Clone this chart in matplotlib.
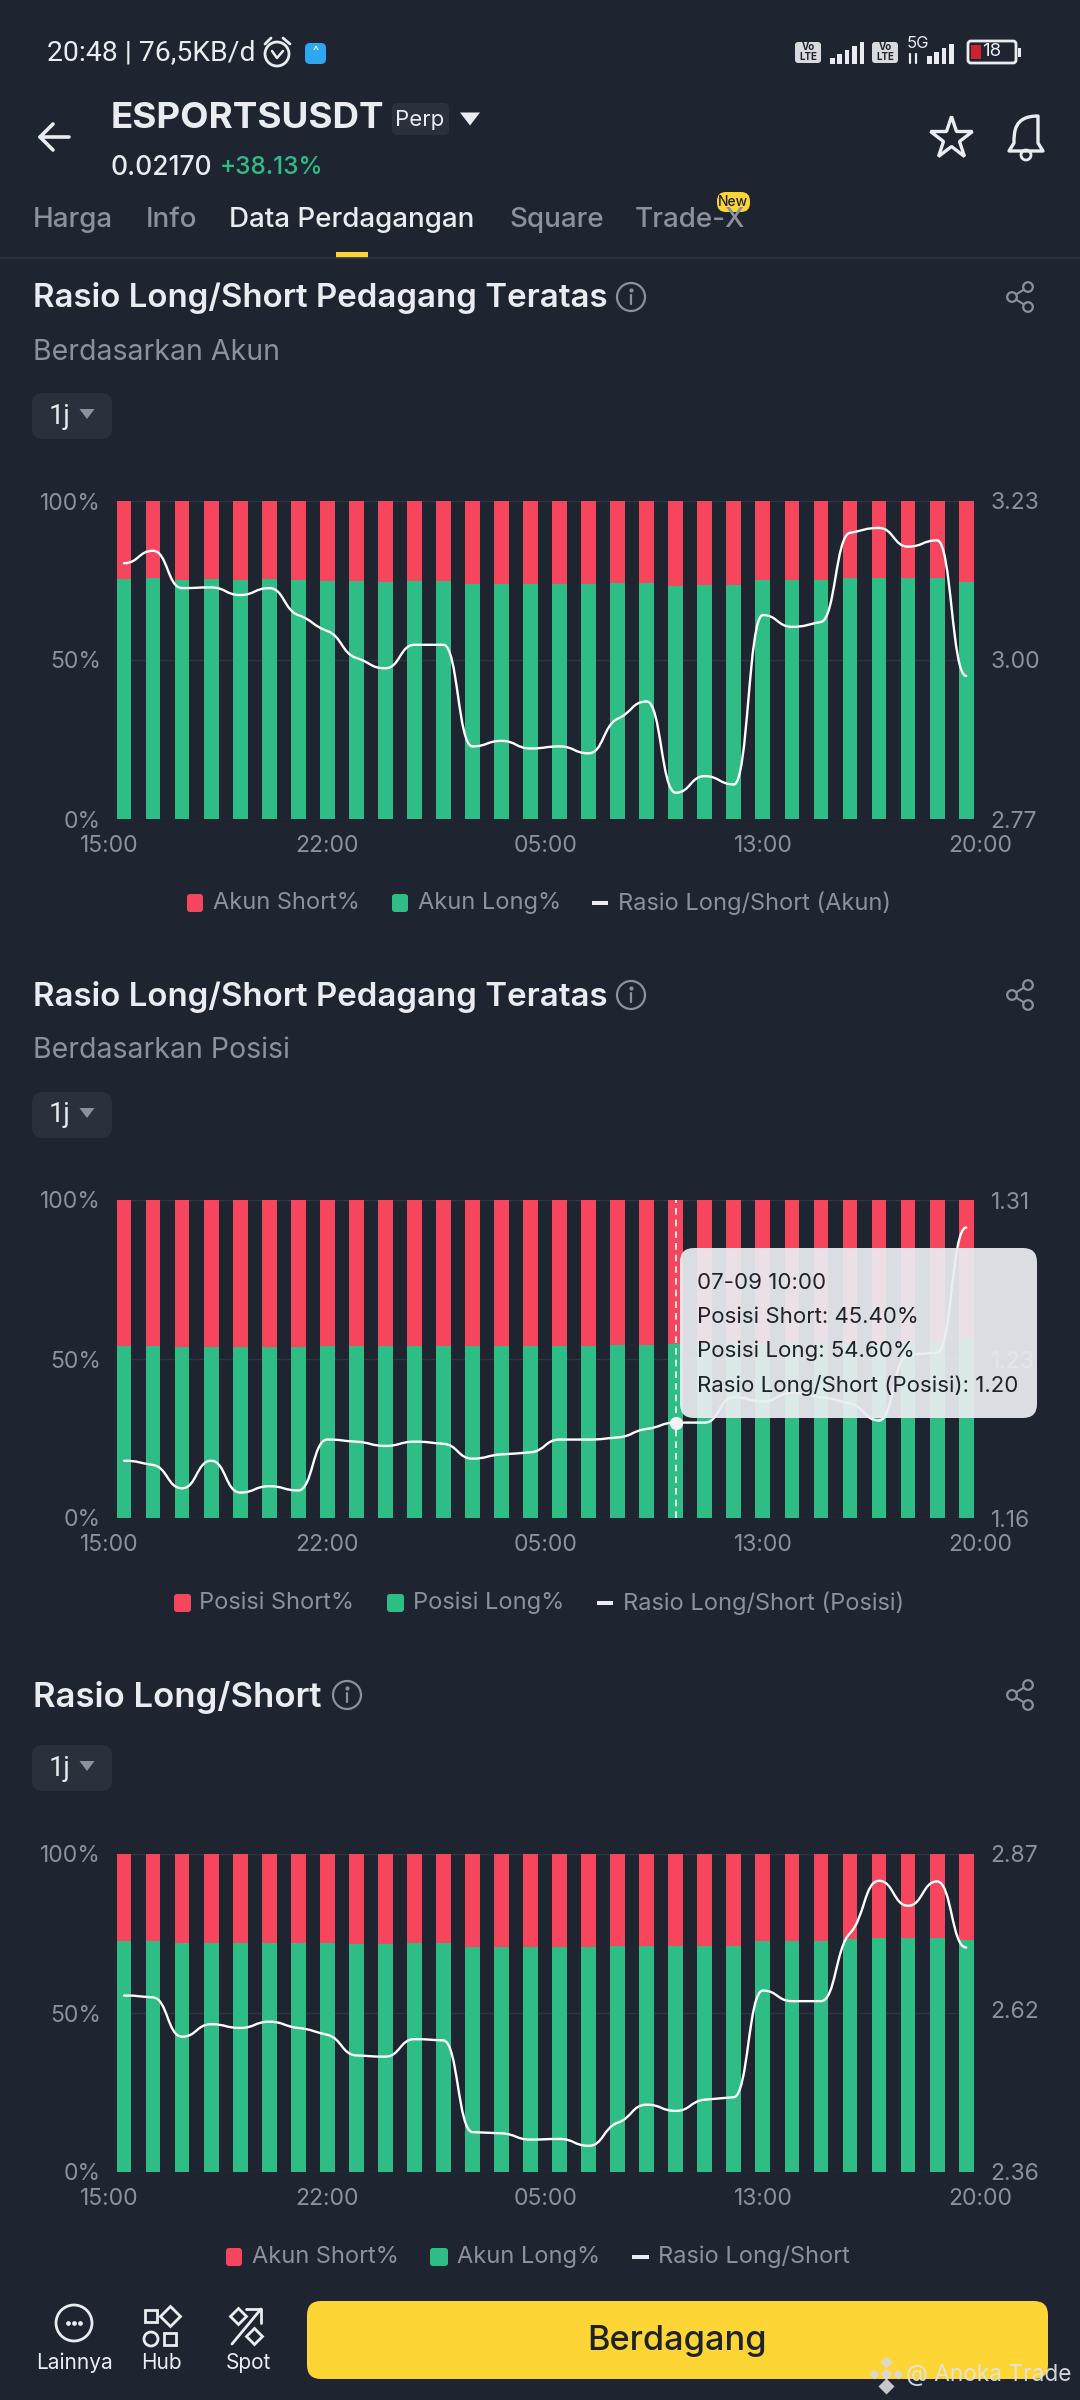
import matplotlib
matplotlib.use('Agg')
import matplotlib.pyplot as plt
from matplotlib.patches import FancyBboxPatch, Circle, PathPatch, Rectangle
from matplotlib.path import Path

plt.rcParams['font.family'] = ['Inter', 'DejaVu Sans']

W, H = 1080, 2400
BG = '#1E2530'
RED = '#F6465D'
GREEN = '#2EBD85'
GRID = '#2E3542'
GREY = '#8B929E'
WHITE = '#EAECEF'
YELLOW = '#FCD535'

jam = ['15:00', '22:00', '05:00', '13:00', '20:00']
jam_pos = [-0.5, 7, 14.5, 22, 29.5]

akun_long = [75.6, 75.8, 75.3, 75.4, 75.3, 75.4, 75.1, 74.9, 74.8, 74.6,
             74.8, 74.8, 74.0, 74.0, 74.0, 74.0, 74.0, 74.3, 74.3, 73.4,
             73.6, 73.6, 75.1, 75.1, 75.2, 75.8, 75.8, 75.8, 75.8, 74.6]
akun_rasio = [3.140, 3.158, 3.104, 3.105, 3.094, 3.104, 3.065, 3.042, 3.003, 2.988,
              3.022, 3.022, 2.875, 2.883, 2.872, 2.875, 2.865, 2.915, 2.940, 2.808,
              2.832, 2.820, 3.065, 3.048, 3.055, 3.184, 3.191, 3.164, 3.173, 2.977]

posisi_long = [54.1, 54.0, 53.8, 53.9, 53.8, 53.8, 53.8, 54.2, 54.2, 54.2,
               54.2, 54.2, 54.2, 54.2, 54.2, 54.2, 54.2, 54.3, 54.4, 54.6,
               54.6, 54.9, 54.8, 54.9, 54.9, 54.8, 54.6, 55.3, 55.3, 56.5]
posisi_rasio = [1.187, 1.185, 1.174, 1.187, 1.172, 1.175, 1.173, 1.197, 1.196, 1.194,
                1.196, 1.195, 1.188, 1.190, 1.191, 1.197, 1.197, 1.198, 1.202, 1.205,
                1.205, 1.217, 1.215, 1.219, 1.217, 1.214, 1.206, 1.237, 1.238, 1.297]

global_long = [72.5, 72.5, 71.9, 72.1, 72.1, 72.1, 72.1, 71.9, 71.8, 71.8,
               71.9, 71.9, 70.7, 70.7, 70.7, 70.7, 70.7, 71.0, 71.1, 71.1,
               71.2, 71.2, 72.5, 72.5, 72.5, 73.2, 73.7, 73.5, 73.7, 73.1]
global_rasio = [2.643, 2.640, 2.577, 2.597, 2.591, 2.601, 2.591, 2.580, 2.547, 2.545,
                2.573, 2.571, 2.424, 2.422, 2.412, 2.413, 2.402, 2.439, 2.468, 2.458,
                2.476, 2.480, 2.651, 2.634, 2.634, 2.743, 2.827, 2.787, 2.826, 2.720]

fig = plt.figure(figsize=(W / 100, H / 100), dpi=100, facecolor=BG)


def kurva(x, y):
    # garis halus seperti di aplikasi
    n = len(x)
    m = [0.0] * n
    for i in range(1, n - 1):
        a, b = y[i] - y[i - 1], y[i + 1] - y[i]
        if a * b > 0:
            batas = 0.5 * min(abs(a), abs(b))
            m[i] = max(-batas, min(batas, 0.12 * (a + b)))
    verts = [(x[0], y[0])]
    codes = [Path.MOVETO]
    for i in range(n - 1):
        verts += [(x[i] + 0.5, y[i] + m[i]), (x[i + 1] - 0.5, y[i + 1] - m[i + 1]), (x[i + 1], y[i + 1])]
        codes += [Path.CURVE4] * 3
    return Path(verts, codes)


def chart(top, bottom, long_pct, rasio, rasio_ticks):
    ax = fig.add_axes([100 / W, 1 - bottom / H, 890 / W, (bottom - top) / H])
    ax.set_facecolor('none')
    idx = list(range(len(long_pct)))
    short_pct = [100 - v for v in long_pct]
    ax.hlines([0, 50, 100], -0.275, 29.235, color=GRID, lw=1, zorder=1)
    ax.bar(idx, long_pct, width=0.51, color=GREEN, zorder=2)
    ax.bar(idx, short_pct, bottom=long_pct, width=0.51, color=RED, zorder=2)
    ax.set_xlim((100 - 124) / 29.04, (990 - 124) / 29.04)
    ax.set_ylim(0, 100)
    ax.set_yticks([0, 50, 100], ['0%', '50%', '100%'])
    ax.set_xticks(jam_pos, jam)
    ax.tick_params(axis='y', length=0, pad=-0.5, labelcolor=GREY, labelsize=16.5)
    ax.tick_params(axis='x', length=0, pad=11.5, labelcolor=GREY, labelsize=16.5)
    for s in ax.spines.values():
        s.set_visible(False)
    ax2 = ax.twinx()
    ax2.set_ylim(rasio_ticks[0], rasio_ticks[-1])
    ax2.set_yticks(rasio_ticks, ['%.2f' % v for v in rasio_ticks])
    ax2.tick_params(axis='y', length=0, pad=0.5, labelcolor=GREY, labelsize=16.5)
    for s in ax2.spines.values():
        s.set_visible(False)
    ax2.add_patch(PathPatch(kurva(idx, rasio), fill=False, ec='white', lw=1.7, zorder=5, capstyle='round'))
    return ax, ax2


ax1, ax1b = chart(501, 819, akun_long, akun_rasio, [2.77, 3.00, 3.23])
ax2, ax2b = chart(1200, 1518, posisi_long, posisi_rasio, [1.16, 1.235, 1.31])
ax3, ax3b = chart(1854, 2172, global_long, global_rasio, [2.36, 2.62, 2.87])
ax2b.set_yticklabels(['1.16', '1.23', '1.31'])

# titik hover di 10:00
ax2b.axvline(19, color='white', lw=1.2, ls=(0, (4, 3)), zorder=6)
ax2b.plot([19], [posisi_rasio[19]], 'o', color='#F2F3F5', ms=8.5, zorder=7)

# layer untuk semua elemen UI, koordinat piksel
ui = fig.add_axes([0, 0, 1, 1])
ui.set_xlim(0, W)
ui.set_ylim(H, 0)
ui.axis('off')
ui.patch.set_alpha(0)


def t(x, y, s, size, color=WHITE, weight='normal', ha='left', **kw):
    return ui.text(x, y, s, fontsize=size, color=color, fontweight=weight, ha=ha, va='center', **kw)


def kotak(x0, y0, x1, y1, r, color, **kw):
    ui.add_patch(FancyBboxPatch((x0 + r, y0 + r), x1 - x0 - 2 * r, y1 - y0 - 2 * r,
                                boxstyle='round,pad=%d' % r, fc=color, ec='none', **kw))


def garis(xs, ys, color=WHITE, lw=2, **kw):
    ui.plot(xs, ys, color=color, lw=lw, solid_capstyle='round', solid_joinstyle='round', **kw)


def segitiga(x, y, w, h, color):
    ui.fill([x - w / 2, x + w / 2, x], [y - h / 2, y - h / 2, y + h / 2], color=color, lw=0)


def info(x, y):
    ui.add_patch(Circle((x, y), 14, fc='none', ec=GREY, lw=1.6))
    garis([x, x], [y - 2, y + 7], GREY, 1.6)
    ui.plot([x], [y - 7], 'o', color=GREY, ms=2)


def share(x, y):
    pts = [(x + 8, y - 10), (x - 8, y), (x + 8, y + 10)]
    garis([pts[0][0], pts[1][0], pts[2][0]], [pts[0][1], pts[1][1], pts[2][1]], GREY, 1.5)
    for p in pts:
        ui.add_patch(Circle(p, 4.8, fc=BG, ec=GREY, lw=1.6, zorder=4))


def tombol_1j(yc):
    kotak(32, yc - 23, 112, yc + 23, 11, '#2A303C')
    t(49, yc, '1j', 19.5, family=['Roboto', 'DejaVu Sans'])
    segitiga(87, yc - 2, 15, 10, GREY)


def legenda(y, items):
    for tipe, warna, x0, x1, teks, xt in items:
        if tipe == 'kotak':
            kotak(x0, y - 9, x1, y + 9, 3, warna)
        else:
            ui.add_patch(Rectangle((x0, y - 2), x1 - x0, 4, fc=warna, ec='none'))
        t(xt, y, teks, 17, GREY)


# status bar
t(47, 53, '20:48 | 76,5KB/d', 20.4, WHITE, family=['Roboto', 'DejaVu Sans'])
ui.add_patch(Circle((277, 54), 12, fc='none', ec=WHITE, lw=2))
garis([265, 271], [44, 38], WHITE, 2)
garis([283, 290], [38, 44], WHITE, 2)
garis([272, 277, 283], [51, 58, 51], WHITE, 1.8)
kotak(305, 43, 326, 64, 5, '#2EA6F0')
ui.text(315, 52, '^', fontsize=9, color='white', ha='center', va='center')
for x0 in (795, 872):
    kotak(x0, 42, x0 + 26, 63, 3, '#D8DADD')
    ui.text(x0 + 13, 47.5, 'Vo', fontsize=7, color=BG, ha='center', va='center', fontweight='bold')
    ui.text(x0 + 13, 57, 'LTE', fontsize=7, color=BG, ha='center', va='center', fontweight='bold')
for i, h in enumerate([6, 10, 14, 18, 22]):
    ui.add_patch(Rectangle((830 + i * 7.4, 64 - h), 4.6, h, fc=WHITE, ec='none'))
for i, h in enumerate([8, 12, 16, 20]):
    ui.add_patch(Rectangle((927 + i * 7.4, 64 - h), 4.6, h, fc=WHITE, ec='none'))
t(918, 43, '5G', 12, WHITE, ha='center')
garis([910, 910], [54, 63], WHITE, 1.6)
garis([916, 916], [54, 63], WHITE, 1.6)
ui.add_patch(FancyBboxPatch((971, 44), 42, 16, boxstyle='round,pad=3', fc='none', ec=WHITE, lw=2))
ui.add_patch(Rectangle((971, 45), 10, 14, fc='#D0202E', ec='none'))
ui.add_patch(Rectangle((1018, 48), 3, 9, fc=WHITE, ec='none'))
t(992, 52, '18', 13.5, WHITE, ha='center')

# header
garis([40, 69], [137, 137], WHITE, 2.6)
garis([53, 40, 53], [124, 137, 150], WHITE, 2.6)
t(111, 119, 'ESPORTSUSDT', 26.5, WHITE, 'bold')
kotak(392, 103, 449, 135, 5, '#2A303C')
t(420, 120, 'Perp', 16, WHITE, ha='center')
segitiga(470, 119, 20, 13, WHITE)
t(111, 168, '0.02170', 19, WHITE, 'medium')
t(220, 168, '+38.13%', 17.5, GREEN, 'medium')
ui.plot([951], [138], marker='*', ms=32, mfc='none', mec=WHITE, mew=2.4)
bell = Path([(1009, 151), (1014, 143), (1014, 132), (1014, 116), (1038, 116), (1038, 132), (1038, 143), (1043, 151), (1009, 151)],
            [Path.MOVETO, Path.LINETO, Path.CURVE4, Path.CURVE4, Path.CURVE4, Path.LINETO, Path.LINETO, Path.LINETO, Path.CLOSEPOLY])
ui.add_patch(PathPatch(bell, fc='none', ec=WHITE, lw=2.4, joinstyle='round'))
ui.add_patch(Circle((1026, 155), 5, fc='none', ec=WHITE, lw=2))

# tab
t(33, 220, 'Harga', 20, GREY, 'medium')
t(146, 220, 'Info', 20, GREY, 'medium')
t(229, 220, 'Data Perdagangan', 20, WHITE, 'medium')
t(509, 220, 'Square', 20, GREY, 'medium')
t(635, 220, 'Trade-X', 20, GREY, 'medium')
kotak(717, 192, 750, 212, 9, YELLOW)
ui.text(733, 202, 'New', fontsize=10, color='#1E2329', ha='center', va='center', fontweight='medium')
ui.add_patch(Rectangle((336, 252), 32, 6, fc=YELLOW, ec='none'))
ui.plot([0, W], [258, 258], color='#2F3540', lw=1.2)

# judul
t(33, 298, 'Rasio Long/Short Pedagang Teratas', 23.8, WHITE, 'semibold')
info(631, 297)
share(1020, 297)
t(33, 352, 'Berdasarkan Akun', 20.5, GREY)
tombol_1j(416)
legenda(903, [('kotak', RED, 187, 203, 'Akun Short%', 213),
              ('kotak', GREEN, 392, 408, 'Akun Long%', 418),
              ('garis', WHITE, 592, 608, 'Rasio Long/Short (Akun)', 618)])

t(33, 997, 'Rasio Long/Short Pedagang Teratas', 23.8, WHITE, 'semibold')
info(631, 995)
share(1020, 995)
t(33, 1051, 'Berdasarkan Posisi', 20.5, GREY)
tombol_1j(1115)
legenda(1603, [('kotak', RED, 174, 191, 'Posisi Short%', 199),
               ('kotak', GREEN, 387, 404, 'Posisi Long%', 413),
               ('garis', WHITE, 597, 613, 'Rasio Long/Short (Posisi)', 623)])

t(33, 1697, 'Rasio Long/Short', 25, WHITE, 'semibold')
info(347, 1695)
share(1020, 1695)
tombol_1j(1768)
legenda(2257, [('kotak', RED, 226, 242, 'Akun Short%', 252),
               ('kotak', GREEN, 430, 448, 'Akun Long%', 457),
               ('garis', WHITE, 632, 649, 'Rasio Long/Short', 658)])

# tooltip
kotak(680, 1248, 1037, 1418, 14, '#EAEDF1', alpha=0.93, zorder=8)
for y, s in zip([1283, 1317, 1351, 1385],
                ['07-09 10:00', 'Posisi Short: 45.40%', 'Posisi Long: 54.60%', 'Rasio Long/Short (Posisi): 1.20']):
    t(697, y, s, 16, '#1E2329', zorder=9)

# bawah
kotak(307, 2301, 1048, 2379, 14, '#FDD535')
t(677, 2341, 'Berdagang', 24.7, '#1E2329', 'medium', ha='center')
ui.add_patch(Circle((74, 2323), 18, fc='none', ec=WHITE, lw=2))
for dx in (-6, 0, 6):
    ui.plot([74 + dx], [2323], 'o', color=WHITE, ms=2.4)
t(74, 2363, 'Lainnya', 15, WHITE, ha='center')
ui.add_patch(Rectangle((145, 2310), 12, 12, fc='none', ec=WHITE, lw=2))
ui.plot([170], [2316], marker='D', ms=10, mfc='none', mec=WHITE, mew=2)
ui.add_patch(Circle((151, 2339), 7, fc='none', ec=WHITE, lw=2))
ui.add_patch(Rectangle((164, 2333), 12, 12, fc='none', ec=WHITE, lw=2))
t(161, 2363, 'Hub', 15, WHITE, ha='center')
garis([232, 261], [2344, 2309], WHITE, 2)
garis([246, 261, 261], [2309, 2309, 2323], WHITE, 2)
ui.plot([238], [2316], marker='D', ms=8, mfc='none', mec=WHITE, mew=2)
ui.plot([254], [2336], marker='D', ms=8, mfc='none', mec=WHITE, mew=2)
t(248, 2363, 'Spot', 15, WHITE, ha='center')

# watermark
for dx, dy, ms in [(0, -12, 6), (-12, 0, 5), (12, 0, 5), (0, 0, 6), (0, 12, 8)]:
    ui.plot([886 + dx], [2374 + dy], marker='D', ms=ms, mfc='#D8DADD', mec='none', alpha=0.9)
t(906, 2375, '@ Anoka Trade', 16.3, '#E3E5E8', alpha=0.92)

fig.savefig('out.png', dpi=100, facecolor=BG)
